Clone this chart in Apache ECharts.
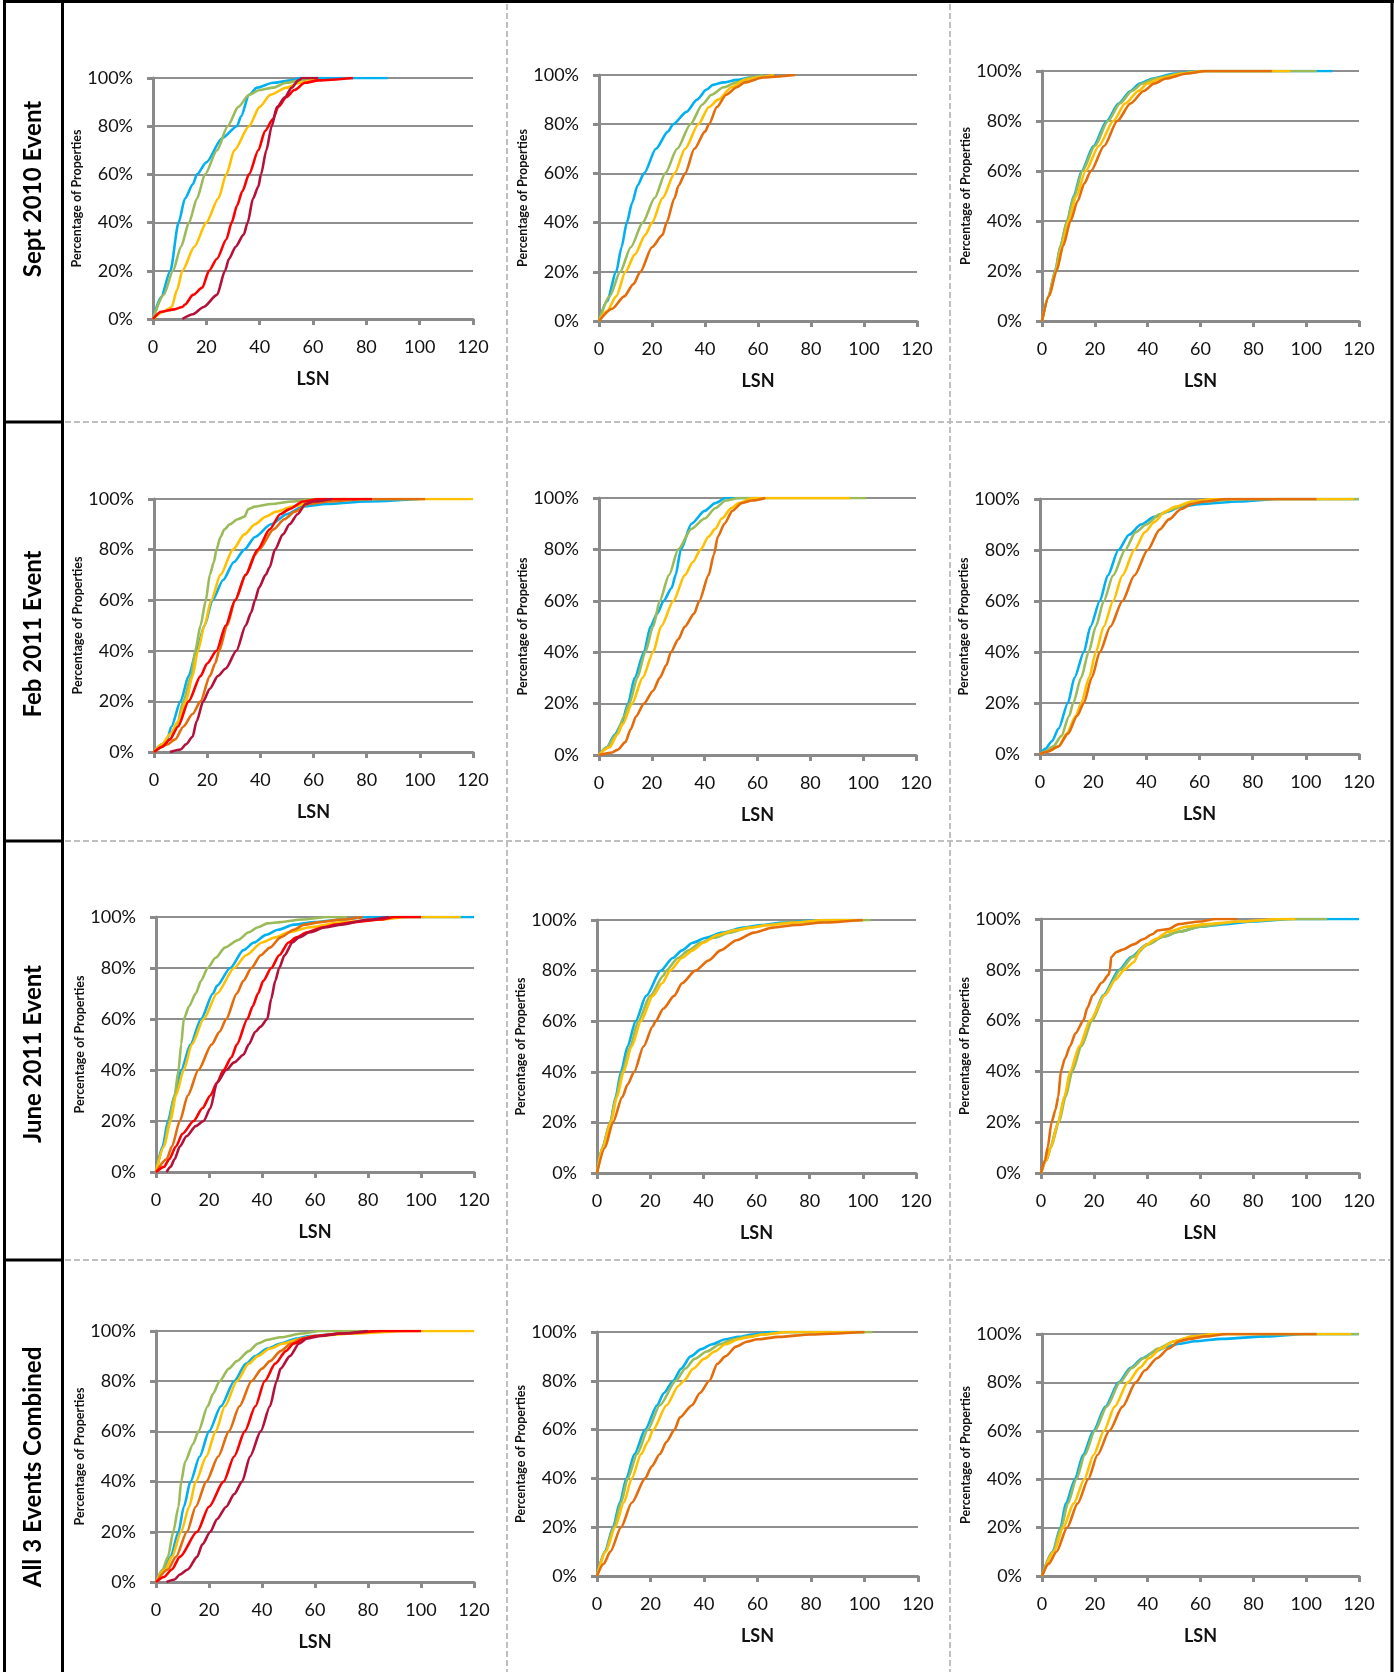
<!DOCTYPE html>
<html><head><meta charset="utf-8">
<script src="https://cdn.jsdelivr.net/npm/echarts@6/dist/echarts.min.js"></script>
<style>html,body{margin:0;padding:0;background:#fff}#c{width:1394px;height:1672px}</style>
</head><body><div id="c"></div>
<script>
// ---------- DATA (LSN, cumulative % of properties) ----------
const rowLabels = ['Sept 2010 Event', 'Feb 2011 Event', 'June 2011 Event', 'All 3 Events Combined'];
const xTicks = [0, 20, 40, 60, 80, 100, 120];
const yTicks = [0, 20, 40, 60, 80, 100];
const xName = 'LSN';
const yName = 'Percentage of Properties';

// Sept 2010
const sep_c1_blue = [[0,0],[3,9],[6.5,20],[9.6,40],[12,50],[15,56],[16.5,60],[20,65],[25.9,75],[31.5,80],[33,84],[36,93],[39,96],[45,98],[52,99],[55,100],[88,100]];
const sep_c1_green = [[0,0],[4,10],[7.5,20],[10.5,30],[13.5,40],[16.5,50],[19.5,60],[24,70],[28,80],[32,88],[36,93],[40,95],[45,96],[50,98],[55,99],[60,100]];
const sep_c1_yellow = [[0,0],[4,3],[7,5],[9,12],[11,20],[15.5,30],[20,40],[24.5,50],[27.5,60],[30.5,70],[36,80],[40,88],[44,93],[50,96],[55,98],[62,100]];
const sep_c1_red = [[0,0],[3,3],[8,4],[11,5],[12,6],[15,10],[18.5,13],[21,20],[24,25],[27.5,33],[29.5,40],[31.5,47],[33.5,53],[36,60],[39.5,70],[42,78],[45,83],[47,88],[50,92],[53,95],[57,98],[62,99],[75,100]];
const sep_c1_darkred = [[11,0],[15,2],[19,5],[24,10],[27,20],[28.5,25],[31,30],[34,35],[35.5,40],[37.5,50],[39.5,55],[40.5,60],[42.5,70],[44.5,80],[46.5,88],[49.5,92],[52,96],[54.5,99],[56,100],[62,100]];
const sep_c2_blue = [[0,0],[3,8],[6.5,20],[8.5,30],[10.5,40],[12.5,48],[14.5,55],[17,60],[21.5,70],[26,77],[28,80],[33,85],[37,90],[40.5,94],[43,96],[47,97],[52,98],[57,99],[62,100]];
const sep_c2_green = [[0,0],[4,10],[8,20],[12,30],[16.5,40],[21,50],[25,60],[29.5,70],[34.5,80],[39,88],[42.5,92],[47,95],[52,97],[57,99],[62,100]];
const sep_c2_yellow = [[0,0],[3,4],[6.5,10],[10,20],[13.5,27],[17.5,35],[20,40],[24,50],[28.5,60],[32.5,70],[37.5,80],[41.5,87],[45,90],[50,95],[55,98],[60,99],[66,100]];
const sep_c2_orange = [[0,0],[5,5],[9.5,10],[13,15],[15.6,20],[20,30],[24,35],[25.5,40],[28.5,50],[30,55],[32.5,60],[36,70],[40,77],[41.5,80],[44.5,87],[48,92],[52,95],[55,97],[62,99],[74,100]];
const sep_c3_blue = [[0,0],[2.5,10],[5,20],[7,30],[9.5,40],[12,50],[15,60],[19.5,70],[24.5,80],[29,87],[33.5,92],[37,95],[42,97],[50,99],[60,100],[110,100]];
const sep_c3_green = [[0,0],[2.5,10],[5,20],[7,30],[9.5,40],[12.2,50],[15.3,60],[20,70],[25,80],[29.5,87],[34,92],[38,95],[43,97],[52,99],[60,100],[104,100]];
const sep_c3_yellow = [[0,0],[2.6,10],[5.3,20],[7.5,30],[10,40],[13,50],[16.5,60],[21.5,70],[27,80],[31.5,87],[36.5,92],[40,95],[45,97],[53,99],[62,100],[94,100]];
const sep_c3_orange = [[0,0],[2.7,10],[5.5,20],[8,30],[10.8,40],[13.5,48],[16,55],[18.5,60],[23.5,70],[28.5,80],[33.5,87],[38.5,92],[42.5,95],[47,97],[55,99],[62,100],[87,100]];

// Feb 2011
const feb_c1_blue = [[0,0],[3,3],[5,5],[6.5,10],[10,20],[13,30],[16,40],[19,50],[22,60],[26,68],[30,75],[34,80],[38,85],[44,90],[50,94],[56,97],[65,98],[80,99],[100,100]];
const feb_c1_green = [[0,0],[3,2],[6,5],[8.5,10],[11,20],[14,30],[15.5,40],[17.5,50],[19.5,60],[21,70],[22.5,75],[23.5,80],[25,85],[26.5,88],[28.5,90],[31.5,92],[34,93],[35.5,96],[38,97],[44,98],[52,99],[60,100],[80,100]];
const feb_c1_yellow = [[0,0],[3,3],[6,7],[9,12],[12,20],[14.5,30],[16.5,40],[19,50],[21.5,60],[25,70],[29.7,80],[34,86],[38,90],[42,93],[46,95],[52,97],[60,99],[70,100],[120,100]];
const feb_c1_orange = [[0,0],[5,3],[8,5],[11,10],[14.5,15],[17.5,20],[21,30],[23,35],[24.5,40],[27.5,50],[30.5,60],[34.5,70],[38,78],[39.5,80],[45,88],[49,92],[53,95],[58,98],[66,99],[80,100],[102,100]];
const feb_c1_red = [[0,0],[3,2],[6,5],[9,10],[13,20],[17.5,30],[20,35],[23.5,40],[27,50],[30.5,60],[34.5,70],[39,80],[43.5,88],[47.5,94],[51,96],[56,99],[62,100],[82,100]];
const feb_c1_darkred = [[6,0],[10,1],[12,3],[14.5,6],[16,12],[18.5,20],[21,25],[24,30],[27,33],[31,40],[34.5,50],[36.5,55],[38,60],[39.5,65],[42,70],[43.5,73],[45.5,80],[48.5,86],[51,90],[54,94],[57,98],[60,99],[67,100]];
const feb_c2_blue = [[0,0],[3,3],[6,8],[8.5,12],[11,20],[13.5,30],[17,40],[19.5,50],[22,55],[24.5,60],[27.5,65],[29,70],[31,80],[35,90],[40,95],[44,98],[48,100],[60,100]];
const feb_c2_green = [[0,0],[3,3],[6.5,8],[9.5,15],[11.5,20],[14.5,30],[17.5,40],[20.5,50],[23,60],[26.5,70],[30,80],[35,88],[40,92],[44,96],[48,99],[53,100],[101,100]];
const feb_c2_yellow = [[0,0],[4,3],[7,8],[9,12],[12.5,20],[16.5,30],[20.5,40],[23.5,50],[28.2,60],[32.5,70],[35.5,75],[38.5,80],[41.5,85],[44,88],[46.5,92],[50,96],[53,98],[58,100],[95,100]];
const feb_c2_orange = [[0,0],[5,1],[7,2],[10,5],[12,10],[14,15],[17,20],[20.5,25],[23,30],[25.5,35],[27.2,40],[30,45],[32.5,50],[36,55],[38,60],[41.5,70],[43.5,78],[45,85],[47.5,90],[50.5,95],[54,98],[58,99],[63,100]];
const feb_c3_blue = [[0,0],[2,2],[4.5,5],[7,10],[10.5,20],[13,30],[16.5,40],[19,50],[22.5,60],[25.5,70],[29.5,80],[33.5,86],[38,90],[43,93],[48,95],[53,97],[60,98],[75,99],[90,100],[120,100]];
const feb_c3_green = [[0,0],[2,1],[5,3],[8,7],[11,15],[12.5,20],[15.5,30],[18.3,40],[21,50],[24,60],[27.5,70],[32,80],[36,87],[40,90],[45,94],[50,96],[55,98],[62,99],[75,100],[120,100]];
const feb_c3_yellow = [[0,0],[3,1],[7,3],[10,8],[13.5,15],[15.5,20],[18.5,30],[21,40],[24,50],[27.5,60],[31,70],[35.5,80],[39.5,87],[43,91],[47,95],[51,97],[57,99],[65,100],[118,100]];
const feb_c3_orange = [[0,0],[3,1],[7,3],[10.5,8],[14,15],[16.5,20],[19.5,30],[22.5,40],[26.5,50],[31,60],[35.5,70],[40.5,80],[45,88],[48.5,92],[53,96],[57,98],[62,99],[70,100],[104,100]];

// June 2011
const jun_c1_blue = [[0,0],[2.5,10],[4.5,20],[7,30],[9.5,40],[13,50],[17,60],[21.5,70],[23,73],[28,80],[33,87],[37,90],[41.5,93],[46,95],[52,97],[60,98],[70,99],[80,100],[120,100]];
const jun_c1_green = [[0,0],[3,10],[5,20],[7,30],[8.5,40],[9.5,50],[10.5,60],[12.5,65],[15,70],[17,75],[19.5,80],[22.5,84],[26,88],[31,91],[35,94],[38.5,96],[42,97.5],[47,98],[55,99],[65,100],[72,100]];
const jun_c1_yellow = [[0,0],[3,10],[5.5,20],[7.5,30],[10.5,40],[13.5,50],[18,60],[23,70],[29.5,80],[34,85],[40,90],[45,92],[50,94],[58,96],[70,98],[85,99],[95,100],[115,100]];
const jun_c1_orange = [[0,0],[4,5],[6,10],[9,20],[12,30],[16,40],[21,50],[24,55],[26.5,60],[30.5,70],[33,75],[36,80],[39.5,85],[43,88],[47,92],[52,95],[56,97],[62,98],[70,99],[78,100]];
const jun_c1_red = [[0,0],[3,2],[5,5],[7.5,10],[10,15],[14.2,20],[17.5,25],[20.5,30],[23,35],[25.5,40],[28.5,45],[30.5,50],[34.5,60],[36.5,65],[38.5,70],[40.5,75],[43.5,80],[46.5,85],[50,90],[53,92],[57,94],[63,96],[68,97],[75,98],[85,99],[90,100],[100,100]];
const jun_c1_darkred = [[4,0],[5.5,2],[7,5],[9,10],[11.5,14],[15,18],[18,20],[20.5,25],[23,35],[26.5,40],[29.5,43],[33,46],[35,50],[37.5,55],[39.5,57],[42,60],[43.5,68],[45,75],[46.5,80],[48.5,85],[51.5,90],[54,92],[58,94],[64,96],[70,97],[80,99],[88,100]];
const jun_c2_blue = [[0,0],[2,10],[5,20],[7,30],[9,40],[11.5,50],[14.5,60],[18.5,70],[24,80],[28.5,85],[32,88],[36,91],[41,93],[47,95],[55,97],[62,98],[70,99],[85,100],[100,100]];
const jun_c2_green = [[0,0],[2,10],[5,20],[7.2,30],[9.5,40],[12.5,50],[15.5,60],[20,70],[25,78],[26,80],[30.5,85],[34.5,88],[39,91],[44,93],[50,95],[57,97],[64,98],[72,99],[90,100],[103,100]];
const jun_c2_yellow = [[0,0],[2.1,10],[5.2,20],[7.5,30],[10,40],[13,50],[16.5,60],[21,70],[24.5,75],[27.5,80],[32,85],[36,88],[40,91],[45,94],[52,96],[58,97],[65,98],[75,99],[85,100],[100,100]];
const jun_c2_orange = [[0,0],[3,10],[6,20],[9.5,30],[11.5,35],[14,40],[17.5,50],[21,58],[22,60],[25,65],[29,70],[32,75],[37,80],[42,84],[46.5,88],[52.5,92],[59,95],[66,97],[75,98],[85,99],[100,100]];
const jun_c3_blue = [[0,0],[2,5],[3.5,10],[6.5,20],[9,30],[11.5,40],[15,50],[19,60],[23.5,70],[29.5,80],[34,85],[40,90],[46,93],[52,95],[60,97],[70,98],[80,99],[95,100],[120,100]];
const jun_c3_green = [[0,0],[2.1,5],[3.7,10],[6.8,20],[9.3,30],[11.8,40],[15.3,50],[19.3,60],[24,70],[30,80],[34.5,85],[40.5,90],[46,93],[52,95],[60,97],[75,99],[95,100],[108,100]];
const jun_c3_yellow = [[0,0],[2,5],[3.6,10],[6.5,20],[8.8,30],[11,40],[14.5,50],[18.5,60],[24,70],[28,76],[31.5,80],[35,83],[37.5,88],[40,90],[43,92],[48,95],[55,97],[62,98],[75,99],[90,100],[96,100]];
const jun_c3_orange = [[0,0],[1.5,5],[2.5,10],[4,20],[5.5,25],[6.5,30],[7.5,40],[9,45],[11,50],[13,55],[16,60],[17.5,65],[19.5,70],[23,75],[25.5,78],[26,80],[26.5,85],[28.5,87],[31,88],[35,90],[38.5,92],[42,94],[44,95.5],[48,96],[52,98],[60,99],[66,100],[74,100]];

// All 3 events combined
const all_c1_blue = [[0,0],[3,5],[5.5,10],[8.5,20],[10.5,30],[13,40],[16.5,50],[20,60],[24.5,70],[29.5,80],[34,87],[37.5,90],[42,93],[47,95],[53,97],[58,98],[70,99],[85,100]];
const all_c1_green = [[0,0],[2.5,5],[4.5,10],[6.5,20],[8.5,30],[9.5,40],[11,48],[14,55],[16,60],[19.5,70],[21.5,75],[24,80],[27.5,85],[30.5,88],[35,92],[38.5,95],[42,96.5],[47,97.5],[55,99],[62,100],[80,100]];
const all_c1_yellow = [[0,0],[3.5,5],[6,10],[9.5,20],[12.5,30],[15,40],[19,50],[22.5,60],[26,70],[30.5,80],[35,87],[38.5,90],[43,93],[48,95],[55,97],[60,98],[75,99],[95,100],[120,100]];
const all_c1_orange = [[0,0],[4.5,5],[7.5,10],[11.7,20],[15,30],[19,40],[23.5,50],[27.5,60],[31.5,70],[36,80],[40,85],[43,88],[47,92],[51,95],[55,97],[60,98],[70,99],[85,100]];
const all_c1_red = [[0,0],[3,2],[6,5],[9,10],[15.5,20],[20,30],[25.5,40],[29.5,50],[33.5,60],[37.5,70],[41,80],[45,87],[49,92],[52,95],[56,97],[60,98],[70,99],[85,100],[100,100]];
const all_c1_darkred = [[4,0],[7,1],[9,3],[12,5],[15.5,10],[17.5,15],[20.5,20],[23,25],[26.5,30],[29.5,35],[32.5,40],[35.5,50],[39.5,60],[43,70],[45.5,80],[47,85],[50.5,90],[54,95],[57,97],[62,98],[70,99],[80,100]];
const all_c2_blue = [[0,0],[3,10],[6,20],[8.5,30],[11,40],[14,50],[18,60],[22.5,70],[25,75],[28.5,80],[31.5,85],[35,90],[39,93],[43,95],[48,97],[53,98],[58,99],[65,100],[100,100]];
const all_c2_green = [[0,0],[3.1,10],[6.3,20],[9,30],[11.5,40],[15,50],[19,60],[23.5,70],[29.5,80],[33,85],[36.5,89],[41,92],[46,95],[51,97],[56,98],[62,99],[70,100],[103,100]];
const all_c2_yellow = [[0,0],[3.3,10],[6.8,20],[10,30],[13,40],[16.5,50],[19,55],[21,60],[26,70],[30.5,78],[32.5,80],[36,85],[40,89],[44,92],[48,95],[53,97],[57,98],[62,99],[72,100],[100,100]];
const all_c2_orange = [[0,0],[2.5,5],[5,10],[9,20],[13,30],[18,40],[20.5,45],[23.5,50],[26,55],[29,60],[31,65],[35.5,70],[38.5,75],[42,80],[45,87],[48,90],[52,94],[56,96],[60,97],[68,98],[80,99],[100,100]];
const all_c3_blue = [[0,0],[4,10],[7,20],[9,30],[12.5,40],[15.5,50],[19.5,60],[24,70],[29,80],[33.5,86],[38,90],[43,93],[48,95],[52,96],[58,97],[68,98],[85,99],[100,100],[120,100]];
const all_c3_green = [[0,0],[4.1,10],[7.3,20],[9.8,30],[13,40],[16.2,50],[20,60],[24.5,70],[29.5,80],[34,86],[38.5,90],[44,94],[50,97],[58,99],[68,100],[120,100]];
const all_c3_yellow = [[0,0],[4.5,10],[8,20],[12,30],[16,40],[19.5,50],[23.5,60],[27.5,70],[32.5,80],[37,86],[40.5,90],[45,94],[50,97],[57,99],[65,100],[117,100]];
const all_c3_orange = [[0,0],[2.5,5],[5.5,10],[9.5,20],[13.5,30],[17.5,40],[21,50],[25.5,60],[30.5,70],[35.5,80],[39,85],[43.5,90],[48,94],[52,97],[56,98],[62,99],[70,100],[104,100]];

// ---------- PANELS ----------
const panelSeries = [
  [ {blue:sep_c1_blue, green:sep_c1_green, yellow:sep_c1_yellow, red:sep_c1_red, darkred:sep_c1_darkred},
    {blue:sep_c2_blue, green:sep_c2_green, yellow:sep_c2_yellow, orange:sep_c2_orange},
    {blue:sep_c3_blue, green:sep_c3_green, yellow:sep_c3_yellow, orange:sep_c3_orange} ],
  [ {blue:feb_c1_blue, green:feb_c1_green, yellow:feb_c1_yellow, orange:feb_c1_orange, red:feb_c1_red, darkred:feb_c1_darkred},
    {blue:feb_c2_blue, green:feb_c2_green, yellow:feb_c2_yellow, orange:feb_c2_orange},
    {blue:feb_c3_blue, green:feb_c3_green, yellow:feb_c3_yellow, orange:feb_c3_orange} ],
  [ {blue:jun_c1_blue, green:jun_c1_green, yellow:jun_c1_yellow, orange:jun_c1_orange, red:jun_c1_red, darkred:jun_c1_darkred},
    {blue:jun_c2_blue, green:jun_c2_green, yellow:jun_c2_yellow, orange:jun_c2_orange},
    {blue:jun_c3_blue, green:jun_c3_green, yellow:jun_c3_yellow, orange:jun_c3_orange} ],
  [ {blue:all_c1_blue, green:all_c1_green, yellow:all_c1_yellow, orange:all_c1_orange, red:all_c1_red, darkred:all_c1_darkred},
    {blue:all_c2_blue, green:all_c2_green, yellow:all_c2_yellow, orange:all_c2_orange},
    {blue:all_c3_blue, green:all_c3_green, yellow:all_c3_yellow, orange:all_c3_orange} ]
];

// plot rectangles [left, top, right, bottom] in px
const plotRects = [
  [[153,78,473,319],[599,75,917,321],[1042,71,1359,321]],
  [[154,499,473,752],[599,498,916,755],[1040,499,1359,754]],
  [[156,917,474,1172],[597,920,916,1173],[1041,919,1359,1173]],
  [[156,1331,474,1582],[597,1332,918,1576],[1042,1334,1359,1576]]
];

const colors = {blue:'#00B0F0', green:'#9BBB59', yellow:'#FFC000', orange:'#E46C0A', red:'#FF0000', darkred:'#B5103A'};
const drawOrder = ['blue','green','yellow','orange','red','darkred'];

const FONT = 'Lato';
const AXIS_COLOR = '#8a8a8a';
const grids = [], xAxes = [], yAxes = [], series = [];
let gi = 0;
for (let r = 0; r < 4; r++) {
  for (let c = 0; c < 3; c++) {
    const [l, t, rr, b] = plotRects[r][c];
    grids.push({left:l, top:t, width:rr-l, height:b-t, containLabel:false});
    xAxes.push({
      gridIndex:gi, type:'value', min:xTicks[0], max:xTicks[xTicks.length-1], interval:xTicks[1]-xTicks[0],
      name:xName, nameLocation:'middle', nameGap:51,
      nameTextStyle:{fontFamily:FONT, fontWeight:'bold', fontSize:18, color:'#111'},
      axisLine:{show:true, onZero:false, lineStyle:{color:AXIS_COLOR, width:3}},
      axisTick:{show:true, length:6, lineStyle:{color:AXIS_COLOR, width:3}},
      axisLabel:{fontFamily:FONT, fontSize:18, color:'#111', margin:19},
      splitLine:{show:false}
    });
    yAxes.push({
      gridIndex:gi, type:'value', min:yTicks[0], max:yTicks[yTicks.length-1], interval:yTicks[1]-yTicks[0],
      name:yName, nameLocation:'middle', nameGap:69, nameRotate:90,
      nameTextStyle:{fontFamily:FONT, fontWeight:'bold', fontSize:12.5, color:'#111'},
      axisLine:{show:true, lineStyle:{color:AXIS_COLOR, width:3}},
      axisTick:{show:true, length:6, lineStyle:{color:AXIS_COLOR, width:3}},
      axisLabel:{fontFamily:FONT, fontSize:18, color:'#111', margin:20, formatter:'{value}%'},
      splitLine:{show:true, lineStyle:{color:'#8f8f8f', width:2}}
    });
    const ps = panelSeries[r][c];
    drawOrder.forEach((k, idx) => {
      if (!ps[k]) return;
      series.push({
        type:'line', xAxisIndex:gi, yAxisIndex:gi, data:ps[k], showSymbol:false, symbol:'none',
        smooth:0.25, smoothMonotone:'x', z:2+idx, silent:true,
        lineStyle:{color:colors[k], width:2.6}
      });
    });
    gi++;
  }
}

// frame lines
const rowBounds = [422, 841, 1260];
const graphic = [];
const blk = {stroke:'#000', lineWidth:3};
graphic.push({type:'line', shape:{x1:3, y1:1.5, x2:1394, y2:1.5}, style:blk});
graphic.push({type:'line', shape:{x1:4.5, y1:0, x2:4.5, y2:1672}, style:blk});
graphic.push({type:'line', shape:{x1:62.5, y1:0, x2:62.5, y2:1672}, style:blk});
graphic.push({type:'line', shape:{x1:1392, y1:0, x2:1392, y2:1672}, style:blk});
rowBounds.forEach(y => {
  graphic.push({type:'line', shape:{x1:3, y1:y, x2:64, y2:y}, style:blk});
  graphic.push({type:'line', shape:{x1:65, y1:y, x2:1390, y2:y}, style:{stroke:'#bfbfbf', lineWidth:2, lineDash:[6,3]}});
});
[507, 950].forEach(x => {
  graphic.push({type:'line', shape:{x1:x, y1:4, x2:x, y2:1672}, style:{stroke:'#bfbfbf', lineWidth:2, lineDash:[6,3]}});
});
const labelY = [189, 634, 1054, 1467];
rowLabels.forEach((txt, i) => {
  graphic.push({type:'text', x:33, y:labelY[i], rotation:Math.PI/2,
    style:{text:txt, font:'bold 24px Lato', fill:'#000', textAlign:'center', textVerticalAlign:'middle', align:'center', verticalAlign:'middle'}});
});

const chart = echarts.init(document.getElementById('c'));
chart.setOption({
  animation:false,
  backgroundColor:'#ffffff',
  grid:grids, xAxis:xAxes, yAxis:yAxes, series:series,
  graphic:{elements:graphic}
});
</script>
</body></html>
